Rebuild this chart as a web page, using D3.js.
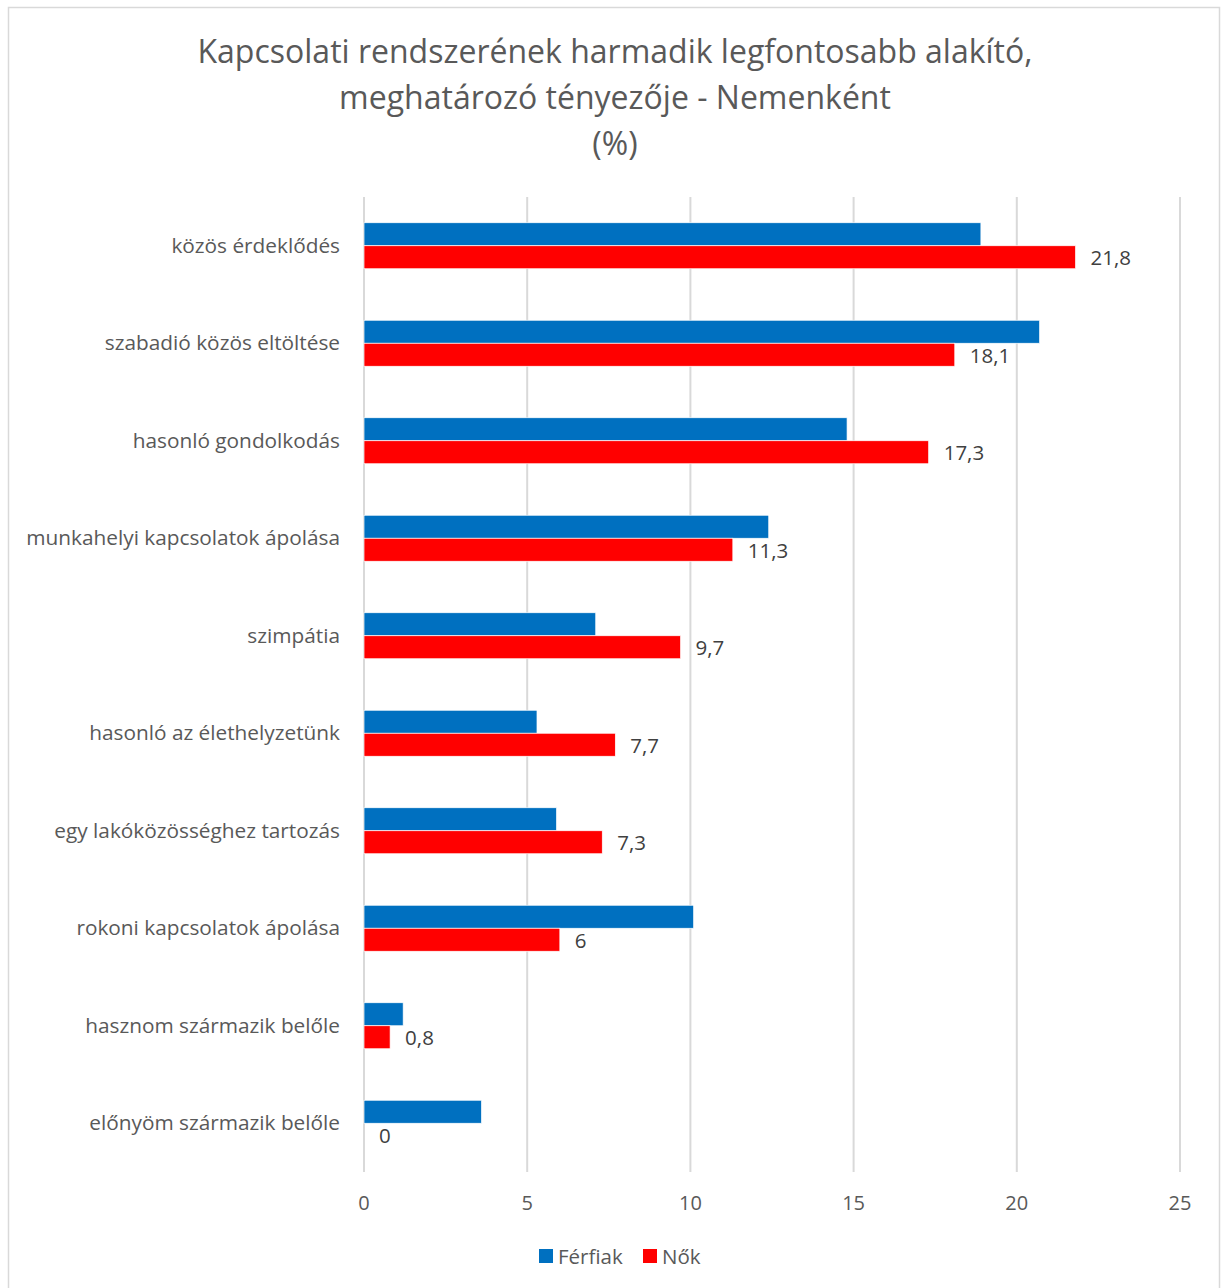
<!DOCTYPE html>
<html>
<head>
<meta charset="utf-8">
<script src="https://cdn.jsdelivr.net/npm/d3@7"></script>
<style>
  body { margin: 0; background: #fff; }
  text { font-family: "Open Sans", "Noto Sans", sans-serif; }
</style>
</head>
<body>
<svg id="chart" width="1222" height="1288"></svg>
<script>
// data
var categories = ["közös érdeklődés", "szabadió közös eltöltése", "hasonló gondolkodás",
    "munkahelyi kapcsolatok ápolása", "szimpátia", "hasonló az élethelyzetünk",
    "egy lakóközösséghez tartozás", "rokoni kapcsolatok ápolása",
    "hasznom származik belőle", "előnyöm származik belőle"];
var ferfiak = [18.9, 20.7, 14.8, 12.4, 7.1, 5.3, 5.9, 10.1, 1.2, 3.6];
var nok = [21.8, 18.1, 17.3, 11.3, 9.7, 7.7, 7.3, 6, 0.8, 0];
var xTicks = [0, 5, 10, 15, 20, 25];
var seriesNames = ["Férfiak", "Nők"];
var colors = ["#0070c0", "#ff0000"];
var titleLines = ["Kapcsolati rendszerének harmadik legfontosabb alakító,",
    "meghatározó tényezője - Nemenként", "(%)"];

var svg = d3.select("#chart");

// outer frame
svg.append("rect")
    .attr("x", 8.5).attr("y", 7.5)
    .attr("width", 1211).attr("height", 1290)
    .attr("fill", "#fff")
    .attr("stroke", "#d9d9d9")
    .attr("stroke-width", 1.5);

var x = d3.scaleLinear().domain([0, 25]).range([364, 1180]);
var y = d3.scaleBand().domain(categories).range([197, 1172]);
var inner = d3.scaleBand().domain([0, 1])
    .range([0, 46])
    .paddingInner(0);

// title
svg.append("g").selectAll("text")
    .data(titleLines)
    .enter().append("text")
    .attr("x", 615)
    .attr("y", function(d, i){ return 63 + i * 46; })
    .attr("text-anchor", "middle")
    .attr("font-size", 32)
    .attr("fill", "#595959")
    .text(function(d){ return d; });

// gridlines
svg.append("g").selectAll("line")
    .data(xTicks)
    .enter().append("line")
    .attr("x1", function(d){ return x(d); })
    .attr("x2", function(d){ return x(d); })
    .attr("y1", 197).attr("y2", 1172)
    .attr("stroke", "#d9d9d9")
    .attr("stroke-width", 2);

// x tick labels
svg.append("g").selectAll("text")
    .data(xTicks)
    .enter().append("text")
    .attr("x", function(d){ return x(d); })
    .attr("y", 1210)
    .attr("text-anchor", "middle")
    .attr("font-size", 20)
    .attr("fill", "#595959")
    .text(function(d){ return d; });

// category labels
svg.append("g").selectAll("text")
    .data(categories)
    .enter().append("text")
    .attr("x", 340)
    .attr("y", function(d){ return y(d) + y.bandwidth() / 2 + 7; })
    .attr("text-anchor", "end")
    .attr("font-size", 20.8)
    .attr("fill", "#595959")
    .text(function(d){ return d; });

// bars
var off = (y.bandwidth() - 46) / 2;
[ferfiak, nok].forEach(function(vals, s){
    svg.append("g").selectAll("rect")
        .data(vals)
        .enter().append("rect")
        .attr("x", x(0))
        .attr("y", function(d, i){ return y(categories[i]) + off + inner(s); })
        .attr("width", function(d){ return x(d) - x(0); })
        .attr("height", inner.bandwidth())
        .attr("fill", colors[s])
        .attr("stroke", "#fff")
        .attr("stroke-width", 0.7);
});

// labels on female bars
svg.append("g").selectAll("text")
    .data(nok)
    .enter().append("text")
    .attr("x", function(d){ return x(d) + 15; })
    .attr("y", function(d, i){ return y(categories[i]) + off + inner(1) + inner.bandwidth() / 2 + 8; })
    .attr("font-size", 20.5)
    .attr("fill", "#404040")
    .text(function(d){ return String(d).replace(".", ","); });

// legend
var legend = svg.append("g");
var lx = [539, 643];
seriesNames.forEach(function(n, i){
    legend.append("rect")
        .attr("x", lx[i]).attr("y", 1249)
        .attr("width", 14).attr("height", 14)
        .attr("fill", colors[i]);
    legend.append("text")
        .attr("x", lx[i] + 19).attr("y", 1264)
        .attr("font-size", 20.5)
        .attr("fill", "#595959")
        .text(n);
});
</script>
</body>
</html>
